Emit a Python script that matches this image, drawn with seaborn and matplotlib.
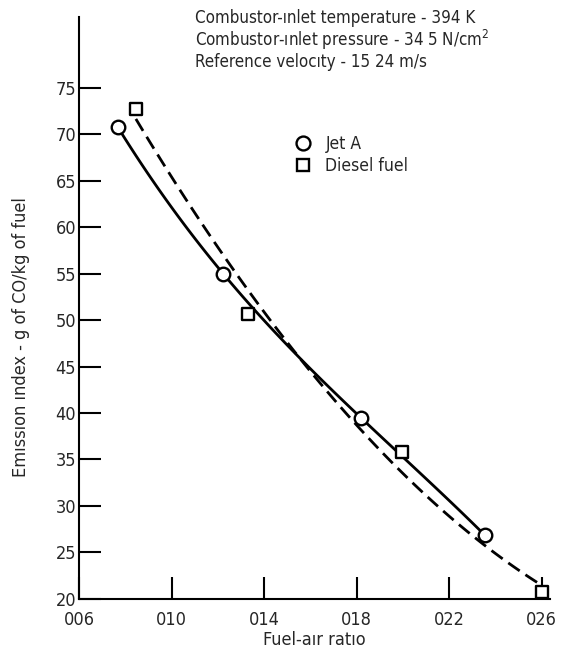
import matplotlib
matplotlib.use("Agg")
import matplotlib.pyplot as plt
from matplotlib.lines import Line2D
import seaborn as sns
import pandas as pd

# ---- data ----
jet_x = [0.00767, 0.01223, 0.01818, 0.02354]
jet_y = [70.8, 55.0, 39.5, 26.85]
diesel_x = [0.00846, 0.01331, 0.01997, 0.02599]
diesel_y = [72.7, 50.7, 35.8, 20.7]
xticks = [0.006, 0.010, 0.014, 0.018, 0.022, 0.026]
xtick_labels = ["006", "010", "014", "018", "022", "026"]
yticks = [20, 25, 30, 35, 40, 45, 50, 55, 60, 65, 70, 75]
series_names = ["Jet A", "Diesel fuel"]
notes = ["Combustor-ınlet temperature - 394 K",
         "Combustor-ınlet pressure - 34 5 N/cm$^2$",
         "Reference velocıty - 15 24 m/s"]

sns.set_theme(style="ticks")
plt.rcParams["font.family"] = ["DejaVu Sans"]
plt.rcParams["font.stretch"] = "condensed"
plt.rcParams["mathtext.default"] = "regular"

fig = plt.figure(figsize=(5.64, 6.61), dpi=100)
ax = fig.add_axes([0.140, 0.094, 0.835, 0.880])

jet = pd.DataFrame({"x": jet_x, "y": jet_y})
dsl = pd.DataFrame({"x": diesel_x, "y": diesel_y})

sns.regplot(data=jet, x="x", y="y", order=3, ci=None, scatter=False, truncate=True,
            color="black", line_kws=dict(lw=2.0, ls="-"), ax=ax)
sns.regplot(data=dsl, x="x", y="y", order=2, ci=None, scatter=False, truncate=True,
            color="black", line_kws=dict(lw=2.0, ls=(0, (5, 2.5))), ax=ax)

sns.scatterplot(data=jet, x="x", y="y", marker="o", s=95, facecolor="white",
                edgecolor="black", linewidth=1.7, zorder=5, ax=ax)
sns.scatterplot(data=dsl, x="x", y="y", marker="s", s=85, facecolor="white",
                edgecolor="black", linewidth=1.7, zorder=5, ax=ax)

ax.set_xlim(0.006, 0.02635)
ax.set_ylim(20, 82.6)
ax.set_xticks(xticks)
ax.set_xticklabels(xtick_labels)
ax.set_yticks(yticks)
ax.tick_params(direction="in", length=16, width=1.5, labelsize=13, color="black")
ax.tick_params(axis="x", pad=9)
ax.tick_params(axis="y", pad=2)
for s in ("top", "right"):
    ax.spines[s].set_visible(False)
for s in ("left", "bottom"):
    ax.spines[s].set_linewidth(1.5)
    ax.spines[s].set_color("black")

ax.set_xlabel("Fuel-aır ratıo", fontsize=13, labelpad=1)
ax.set_ylabel("Emıssıon ındex - g of CO/kg of fuel", fontsize=13)
ax.yaxis.set_label_coords(-0.105, 0.45)

for i, t in enumerate(notes):
    fig.text(0.346, 0.973 - i * 0.0333, t, fontsize=12.2, va="center", ha="left")

handles = [Line2D([], [], marker="o", ls="none", mfc="white", mec="black", mew=1.7, ms=10),
           Line2D([], [], marker="s", ls="none", mfc="white", mec="black", mew=1.7, ms=9)]
ax.legend(handles, series_names, loc="upper left", bbox_to_anchor=(0.42, 0.825),
          frameon=False, fontsize=12.5, handletextpad=0.7, labelspacing=0.25,
          handlelength=1.2)

fig.savefig("out.png", dpi=100)
